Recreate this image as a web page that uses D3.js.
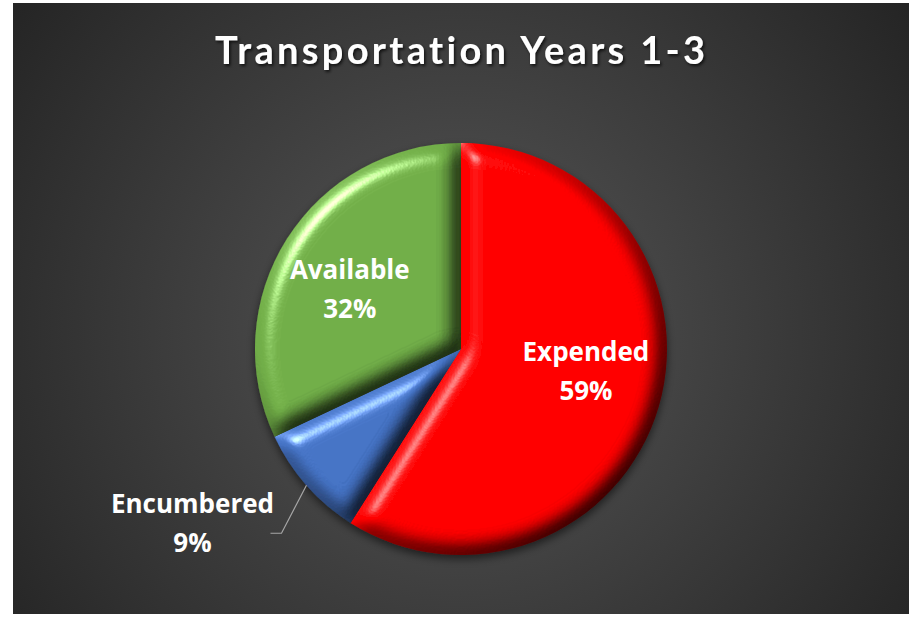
<!DOCTYPE html>
<html lang="en">
<head>
<meta charset="UTF-8">
<title>Transportation Years 1-3</title>
<script src="https://d3js.org/d3.v7.min.js"></script>
<style>
  body { margin: 0; background: #fff; overflow: hidden; }
  svg { display: block; }
  text { font-weight: bold; fill: #fff; font-variant-ligatures: none; }
</style>
</head>
<body>
<script>
// chart data
const categories = ["Expended", "Encumbered", "Available"];
const values = [59, 9, 32];
const colors = ["#ff0000", "#4472c4", "#70ad47"];
const chartTitle = "Transportation Years 1-3";

const width = 912, height = 617;
const cx = 461, cy = 349, R = 206;

const data = categories.map((c, i) => ({ name: c, value: values[i], color: colors[i] }));
const total = d3.sum(values);

const svg = d3.select("body").append("svg")
    .attr("width", width)
    .attr("height", height);
const defs = svg.append("defs");

// dark radial background
const bg = defs.append("radialGradient").attr("id", "bg")
    .attr("gradientUnits", "userSpaceOnUse")
    .attr("cx", 460).attr("cy", 330).attr("r", 560);
bg.append("stop").attr("offset", "0%").attr("stop-color", "#575757");
bg.append("stop").attr("offset", "100%").attr("stop-color", "#242424");

// bevel look for each slice
const bevel = defs.append("filter").attr("id", "bevel")
    .attr("color-interpolation-filters", "sRGB")
    .attr("x", "-10%").attr("y", "-10%").attr("width", "120%").attr("height", "120%");
bevel.append("feGaussianBlur").attr("in", "SourceAlpha").attr("stdDeviation", 10).attr("result", "blur");
bevel.append("feDiffuseLighting").attr("in", "blur").attr("surfaceScale", 13)
    .attr("diffuseConstant", 1.155).attr("lighting-color", "#fff").attr("result", "diff")
  .append("feDistantLight").attr("azimuth", 225).attr("elevation", 60);
bevel.append("feSpecularLighting").attr("in", "blur").attr("surfaceScale", 13)
    .attr("specularConstant", 1).attr("specularExponent", 35).attr("lighting-color", "#fff").attr("result", "spec")
  .append("feDistantLight").attr("azimuth", 225).attr("elevation", 35);
bevel.append("feComposite").attr("in", "SourceGraphic").attr("in2", "diff")
    .attr("operator", "arithmetic").attr("k1", 1).attr("k2", 0).attr("k3", 0).attr("k4", 0).attr("result", "lit");
bevel.append("feComposite").attr("in", "spec").attr("in2", "SourceAlpha")
    .attr("operator", "in").attr("result", "specIn");
bevel.append("feComposite").attr("in", "lit").attr("in2", "specIn")
    .attr("operator", "arithmetic").attr("k1", 0).attr("k2", 1).attr("k3", 0.6).attr("k4", 0);

const shadow = defs.append("filter").attr("id", "pieShadow")
    .attr("x", "-10%").attr("y", "-10%").attr("width", "120%").attr("height", "125%");
shadow.append("feDropShadow").attr("dx", 0).attr("dy", 4).attr("stdDeviation", 4)
    .attr("flood-color", "#000").attr("flood-opacity", 0.55);

const titleShadow = defs.append("filter").attr("id", "titleShadow");
titleShadow.append("feDropShadow").attr("dx", 1.5).attr("dy", 2).attr("stdDeviation", 1.5)
    .attr("flood-color", "#000").attr("flood-opacity", 0.7);

svg.append("rect")
    .attr("x", 13).attr("y", 3)
    .attr("width", 896).attr("height", 611)
    .attr("fill", "url(#bg)");

// title
svg.append("text")
    .attr("x", 460).attr("y", 64)
    .attr("text-anchor", "middle")
    .attr("font-family", "Lato, sans-serif")
    .attr("font-size", 38)
    .attr("textLength", 490)
    .attr("lengthAdjust", "spacing")
    .attr("filter", "url(#titleShadow)")
    .text(chartTitle);

// pie
const pie = d3.pie().sort(null).value(d => d.value);
const arcs = pie(data);
const arc = d3.arc().innerRadius(0).outerRadius(R);

const g = svg.append("g")
    .attr("transform", `translate(${cx},${cy})`)
    .attr("filter", "url(#pieShadow)");

g.selectAll("path.slice")
  .data(arcs)
  .enter().append("path")
    .attr("class", "slice")
    .attr("d", arc)
    .attr("fill", d => d.data.color)
    .attr("filter", "url(#bevel)");

// labels
const pct = d => Math.round(d.data.value / total * 100) + "%";
const inside = d3.arc().innerRadius(127).outerRadius(127);
const nudge = { Expended: [3, -13], Available: [-4, 8] };
const lineGap = 39;
const labelFont = "'Open Sans', sans-serif";

const labels = svg.append("g").attr("transform", `translate(${cx},${cy})`);

arcs.filter(d => d.data.name !== "Encumbered").forEach(d => {
  const [x, y] = inside.centroid(d);
  const [nx, ny] = nudge[d.data.name];
  const t = labels.append("text")
      .attr("text-anchor", "middle")
      .attr("font-family", labelFont)
      .attr("font-size", 26);
  t.append("tspan").attr("x", x + nx).attr("y", y + ny - 10).text(d.data.name);
  t.append("tspan").attr("x", x + nx).attr("y", y + ny - 10 + lineGap).text(pct(d));
});

// outside label with leader line
arcs.filter(d => d.data.name === "Encumbered").forEach(d => {
  const a = (d.startAngle + d.endAngle) / 2;
  const p0 = [Math.sin(a) * R, -Math.cos(a) * R];
  const p1 = [p0[0] - 25, p0[1] + 48];
  const p2 = [p1[0] - 11, p1[1]];
  labels.append("path")
      .attr("d", d3.line()([p0, p1, p2]))
      .attr("fill", "none")
      .attr("stroke", "#a6a6a6")
      .attr("stroke-width", 1.2);
  const lx = p2[0] - 78, ly = p2[1] - 20;
  const t = labels.append("text")
      .attr("text-anchor", "middle")
      .attr("font-family", labelFont)
      .attr("font-size", 26);
  t.append("tspan").attr("x", lx).attr("y", ly).text(d.data.name);
  t.append("tspan").attr("x", lx).attr("y", ly + lineGap).text(pct(d));
});
</script>
</body>
</html>
